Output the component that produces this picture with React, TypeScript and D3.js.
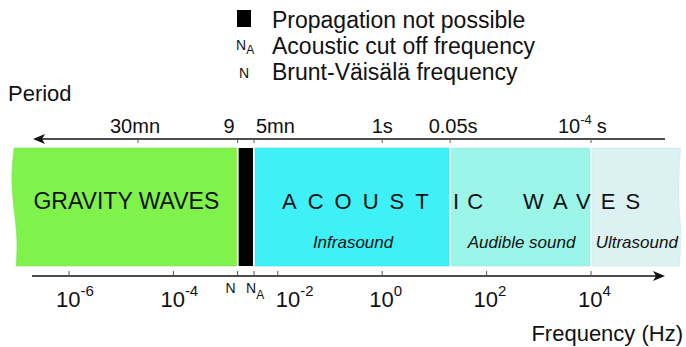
import React from "react";
import * as d3 from "d3";

// frequency (Hz) values
const bandNames = ["GRAVITY WAVES", "Propagation not possible", "Infrasound", "Audible sound", "Ultrasound"];
const bandFrom = [8.5e-8, 1.7e-3, 3.5e-3, 20, 1e4];
const bandTo = [1.7e-3, 3.5e-3, 20, 1e4, 5.2e5];
const bandColors = ["#7ff24b", "#000000", "#3ff0f7", "#9cf5e9", "#dcf1f1"];

const freqTickExps = [-6, -4, -2, 0, 2, 4];
const markerLabels = ["N", "NA"];
const markerFreqs = [1.7e-3, 3.5e-3];

// period labels and where they sit on the frequency axis in the figure
const periodLabels = ["30mn", "9", "5mn", "1s", "0.05s", "10^-4 s"];
const periodFreqs = [2.1e-5, 1.7e-3, 3.5e-3, 1, 20, 1e4];

const legendLabels = ["Propagation not possible", "Acoustic cut off frequency", "Brunt-Väisälä frequency"];

const font = "'Liberation Sans', Arial, Helvetica, sans-serif";

const App = () => {
  const W = 686;
  const H = 347;
  const x = d3.scaleLog().domain([1e-6, 1e4]).range([69, 591]);

  const bandTop = 148;
  const bandBottom = 266;
  const topAxisY = 139;
  const botAxisY = 276;

  const line = d3.line().curve(d3.curveBasis);

  const bandPath = (i: number) => {
    const x0 = x(bandFrom[i]) + (i === 0 ? 0 : 1);
    const x1 = x(bandTo[i]) - (i === bandNames.length - 1 ? 0 : 1);
    let left: [number, number][] = [[x0, bandBottom], [x0, bandTop]];
    let right: [number, number][] = [[x1, bandTop], [x1, bandBottom]];
    if (i === 0) {
      left = [[x0 + 3, bandBottom], [x0 + 5, 235], [x0 - 3, 185], [x0 + 1, bandTop]];
    }
    if (i === bandNames.length - 1) {
      right = [[x1, bandTop], [x1 - 3, 195], [x1 + 1, 230], [x1 - 1, bandBottom]];
    }
    const l = i === 0 ? line(left) : `M${left[0][0]},${left[0][1]}L${left[1][0]},${left[1][1]}`;
    const r = i === bandNames.length - 1 ? line(right)!.replace(/^M/, "L") : `L${right[0][0]},${right[0][1]}L${right[1][0]},${right[1][1]}`;
    return `${l}${r}Z`;
  };

  const center = (i: number) => (x(bandFrom[i]) + x(bandTo[i])) / 2;

  const periodLabel = (lab: string, i: number) => {
    const px = x(periodFreqs[i]);
    if (lab.includes("^")) {
      const [base, rest] = lab.split("^");
      const [exp, unit] = rest.split(" ");
      return (
        <text key={lab} x={px - 33} y={133} fontSize={20}>
          {base}
          <tspan dy={-9} fontSize={13}>{exp}</tspan>
          <tspan dy={9} dx={5}>{unit}</tspan>
        </text>
      );
    }
    let anchor = "middle";
    let dx = 0;
    if (lab === "9") { anchor = "end"; dx = -3; }
    if (lab === "5mn") { anchor = "start"; dx = 2; }
    if (lab === "0.05s") { dx = 3; }
    if (lab === "30mn") { dx = -3; }
    return (
      <text key={lab} x={px + dx} y={133} fontSize={20} textAnchor={anchor}>{lab}</text>
    );
  };

  const acX = x(bandFrom[2]);
  const audX = x(bandFrom[3]);

  return (
    <svg width={W} height={H} style={{ position: "absolute", left: 0, top: 0, background: "#fff" }} fontFamily={font} fill="#111">
      {/* legend */}
      <rect x={237} y={10} width={14} height={17} fill="#000" />
      <text x={272} y={28} fontSize={23}>{legendLabels[0]}</text>
      <text x={236} y={50} fontSize={14}>N<tspan dy={4} fontSize={12}>A</tspan></text>
      <text x={272} y={54} fontSize={23}>{legendLabels[1]}</text>
      <text x={239} y={78} fontSize={14}>N</text>
      <text x={272} y={80} fontSize={23}>{legendLabels[2]}</text>

      <text x={8} y={101} fontSize={22}>Period</text>

      {/* top period axis */}
      <line x1={40} x2={665} y1={topAxisY} y2={topAxisY} stroke="#111" strokeWidth={1.5} />
      <path d={`M${33},${topAxisY}L${45},${topAxisY - 5}L${42},${topAxisY}L${45},${topAxisY + 5}Z`} fill="#111" />
      {periodFreqs.map((f, i) => (
        <line key={i} x1={x(f)} x2={x(f)} y1={topAxisY} y2={topAxisY + 4} stroke="#555" strokeWidth={1} />
      ))}
      {periodLabels.map(periodLabel)}

      {/* bands */}
      {bandNames.map((n, i) => (
        <path key={n} d={bandPath(i)} fill={bandColors[i]} stroke={i === 1 ? "none" : d3.color(bandColors[i])!.darker(0.15).toString()} strokeWidth={0.6} />
      ))}
      <text x={center(0) + 1} y={209} fontSize={23} textAnchor="middle">{bandNames[0]}</text>
      <g fontSize={22}>
        <text x={acX + 28} y={209} letterSpacing={11}>ACOUST</text>
        <text x={audX + 3} y={209} letterSpacing={8}>IC</text>
        <text x={audX + 73} y={209} letterSpacing={10}>WAVES</text>
      </g>
      {[2, 3, 4].map((i) => (
        <text key={i} x={center(i) + 1} y={248} fontSize={17} fontStyle="italic" textAnchor="middle">{bandNames[i]}</text>
      ))}

      {/* bottom frequency axis */}
      <line x1={32} x2={656} y1={botAxisY} y2={botAxisY} stroke="#111" strokeWidth={1.5} />
      <path d={`M${665},${botAxisY}L${653},${botAxisY - 5}L${656},${botAxisY}L${653},${botAxisY + 5}Z`} fill="#111" />
      {freqTickExps.map((e) => (
        <g key={e}>
          <line x1={x(10 ** e)} x2={x(10 ** e)} y1={botAxisY} y2={botAxisY - 5} stroke="#555" />
          <text x={x(10 ** e) + (e === -2 ? -2 : -13)} y={307} fontSize={22}>
            10<tspan dy={-11} fontSize={15}>{e}</tspan>
          </text>
        </g>
      ))}
      {markerFreqs.map((f, i) => (
        <g key={i}>
          <line x1={x(f)} x2={x(f)} y1={botAxisY} y2={botAxisY - 5} stroke="#555" />
          <text x={x(f) + (i === 0 ? -2 : -8)} y={293} fontSize={14} textAnchor={i === 0 ? "end" : "start"}>
            {markerLabels[i][0]}
            {markerLabels[i].length > 1 && <tspan dy={6} fontSize={12}>{markerLabels[i][1]}</tspan>}
          </text>
        </g>
      ))}
      <text x={683} y={341} fontSize={22} textAnchor="end">Frequency (Hz)</text>
    </svg>
  );
};

export default App;
